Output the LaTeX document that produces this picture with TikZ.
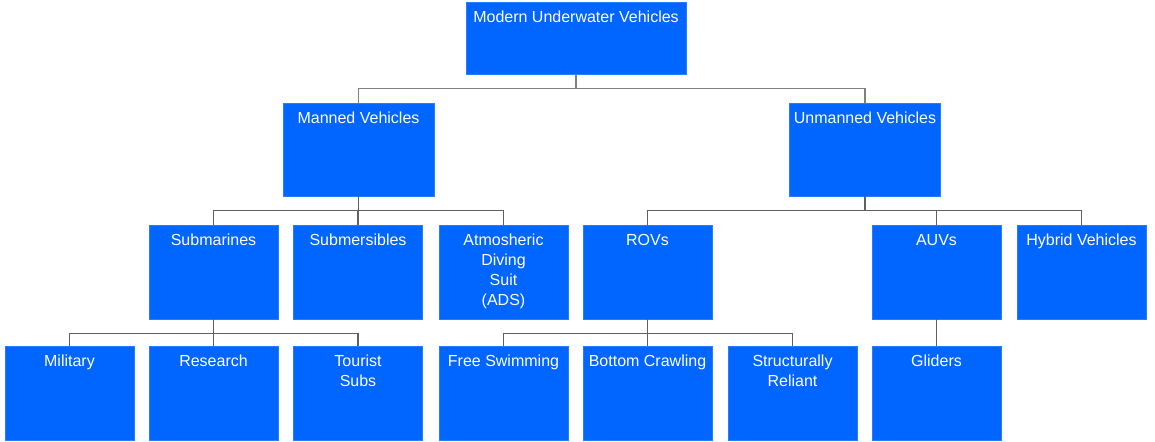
\documentclass[tikz,border=0pt]{standalone}
\usepackage{fontspec}
\setmainfont{Liberation Sans}
\usetikzlibrary{positioning}
\definecolor{vehblue}{RGB}{0,102,255}
\definecolor{linkgray}{RGB}{96,96,96}
\definecolor{rootgray}{RGB}{128,128,128}
\tikzset{
  box/.style 2 args={rectangle, fill=vehblue, draw=vehblue!85!white, line width=0.3pt,
                     minimum width=#1, minimum height=#2, inner xsep=1pt, inner ysep=4.5pt,
                     text=white, font=\fontsize{8}{10}\selectfont,
                     execute at begin node={\begin{minipage}[t][\dimexpr#2-9pt\relax][t]{\dimexpr#1-2pt\relax}\centering},
                     execute at end node={\end{minipage}}},
  rootbox/.style={box={110pt}{36pt}},
  groupbox/.style={box={75.5pt}{46.5pt}},
  leafbox/.style={box={64.5pt}{47pt}},
  link/.style={draw=linkgray, line width=0.75pt},
  rootlink/.style={link, draw=rootgray},
}

\begin{document}
\begin{tikzpicture}[x=0.5pt, y=-0.5pt]
\useasboundingbox (0,0) rectangle (1155,442);
% levels 1 and 2
\node[rootbox] (root) at (576,38) {Modern Underwater Vehicles};
\node[groupbox] (manned) at (358.5,149.5) {Manned Vehicles};
\node[groupbox] (unmanned) at (865,149.5) {Unmanned Vehicles};
% level 3
\node[leafbox] (submarines) at (213.5,272) {Submarines};
\node[leafbox] (submersibles) at (358,272) {Submersibles};
\node[leafbox] (ads) at (503.5,272) {Atmosheric\\Diving\\Suit\\(ADS)};
\node[leafbox] (rovs) at (647.5,272) {ROVs};
\node[leafbox] (auvs) at (936.5,272) {AUVs};
\node[leafbox] (hybrid) at (1081.5,272) {Hybrid Vehicles};
% level 4
\node[leafbox] (military) at (69.5,393) {Military};
\node[leafbox] (research) at (213.5,393) {Research};
\node[leafbox] (tourist) at (358,393) {Tourist\\Subs};
\node[leafbox] (free) at (503.5,393) {Free Swimming};
\node[leafbox] (bottom) at (647.5,393) {Bottom Crawling};
\node[leafbox] (reliant) at (792.5,393) {Structurally\\Reliant};
\node[leafbox] (gliders) at (936.5,393) {Gliders};
% connectors
\foreach \c in {manned, unmanned}
  \draw[rootlink] (root.south) -- ++(0,14) -| (\c.north);
\foreach \p/\c in {manned/submarines, manned/submersibles, manned/ads,
                   unmanned/rovs, unmanned/auvs, unmanned/hybrid,
                   submarines/military, submarines/research, submarines/tourist,
                   rovs/free, rovs/bottom, rovs/reliant, auvs/gliders}
  \draw[link] (\p.south) -- ++(0,14) -| (\c.north);
\end{tikzpicture}
\end{document}
